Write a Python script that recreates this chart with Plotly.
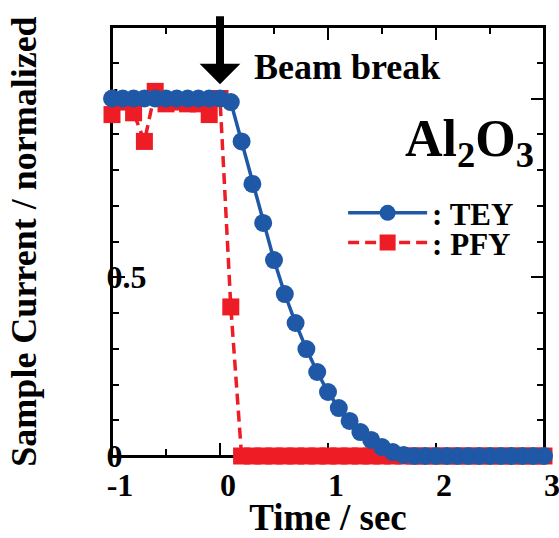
import plotly.graph_objects as go

# ---- data ----
tey_t = [round(-1.0 + 0.1 * i, 1) for i in range(41)]
tey_v = [1.0, 1.0, 1.0, 1.0, 1.0, 1.0, 1.0, 1.0, 1.0, 1.0, 1.0,
         0.99, 0.88, 0.761, 0.652, 0.548, 0.453, 0.372, 0.299, 0.235,
         0.179, 0.134, 0.098, 0.067, 0.045, 0.025, 0.011, 0.003,
         0.0, 0.0, 0.0, 0.0, 0.0, 0.0, 0.0, 0.0, 0.0, 0.0, 0.0, 0.0, 0.0]

pfy_t = [round(-1.0 + 0.1 * i, 1) for i in range(41)]
pfy_v = [0.955, 0.99, 0.96, 0.88, 1.02, 0.985, 0.99, 0.985, 0.985, 0.955,
         1.0, 0.417] + [0.0] * 29

x_ticks = [-1, 0, 1, 2, 3]
x_tick_labels = ["-1", "0", "1", "2", "3"]
y_ticks = [0, 0.5, 1]
y_tick_labels = ["0", "0.5", "1"]

BLUE = "#1f58a6"
RED = "#ee1c25"
FONT = "Liberation Serif"

fig = go.Figure()
fig.add_trace(go.Scatter(
    x=pfy_t, y=pfy_v, mode="lines+markers", name="<b>: PFY</b>",
    line=dict(color=RED, width=3.5, dash="11px,6px"),
    marker=dict(symbol="square", size=17, color=RED),
    cliponaxis=False, legend="legend2",
))
fig.add_trace(go.Scatter(
    x=tey_t, y=tey_v, mode="lines+markers", name="<b>: TEY</b>",
    line=dict(color=BLUE, width=3.5),
    marker=dict(symbol="circle", size=18, color=BLUE),
    cliponaxis=False, legend="legend",
))

axis_common = dict(
    showline=True, linecolor="black", linewidth=2, mirror="ticks",
    ticks="inside", ticklen=13, tickwidth=2, tickcolor="black",
    showgrid=False, zeroline=False, layer="below traces",
    automargin=False, ticklabeloverflow="allow",
)

fig.update_xaxes(
    range=[-1, 3], tickvals=x_ticks, ticktext=[f"<b>{t}</b>" for t in x_tick_labels],
    minor=dict(dtick=0.5, ticklen=7, tickwidth=2, tickcolor="black", ticks="inside"),
    tickfont=dict(family=FONT, size=32, color="black"),
    ticklabelshift=8,
    title=dict(text="<b>Time / sec</b>", font=dict(family=FONT, size=37, color="black"), standoff=6),
    **axis_common,
)
fig.update_yaxes(
    range=[0, 1.2], tickvals=y_ticks, ticktext=[f"<b>{t}</b>" for t in y_tick_labels],
    minor=dict(dtick=0.1, ticklen=7, tickwidth=2, tickcolor="black", ticks="inside"),
    tickfont=dict(family=FONT, size=32, color="black"),
    ticklabelposition="inside", ticklabelstandoff=-15,
    title=dict(text="<b>Sample Current / normalized</b>", font=dict(family=FONT, size=36, color="black"), standoff=59),
    **axis_common,
)

# plot frame
fig.add_shape(type="rect", xref="paper", yref="paper", x0=0, x1=1, y0=0, y1=1,
              line=dict(color="black", width=2), layer="below")

fig.add_annotation(
    x=0, y=1.04, ax=0, ay=1.234, xref="x", yref="y", axref="x", ayref="y",
    showarrow=True, arrowhead=1, arrowsize=0.85, arrowwidth=8, arrowcolor="black",
    text="",
)
fig.add_annotation(
    x=0.296, y=1.088, xref="x", yref="y", xanchor="left", yanchor="middle",
    text="<b>Beam break</b>", showarrow=False,
    font=dict(family=FONT, size=36, color="black"),
)
fig.add_annotation(
    x=2.93, y=0.876, xref="x", yref="y", xanchor="right", yanchor="middle",
    text="<b>Al<sub>2</sub>O<sub>3</sub></b>", showarrow=False,
    font=dict(family=FONT, size=52, color="black"),
)

legend_common = dict(
    xanchor="left", yanchor="middle", bgcolor="rgba(0,0,0,0)", itemwidth=79,
    font=dict(family=FONT, size=31, color="black"), itemsizing="trace",
)

fig.update_layout(
    width=559, height=538,
    margin=dict(l=112, r=15, t=27, b=82, autoexpand=False),
    paper_bgcolor="white", plot_bgcolor="white",
    showlegend=True,
    legend=dict(x=0.535, y=0.566, **legend_common),
    legend2=dict(x=0.535, y=0.497, **legend_common),
)

fig.write_html(
    "out.html",
    config={"displayModeBar": False},
    post_script="document.body.style.margin='0';document.body.style.overflow='hidden';",
)
